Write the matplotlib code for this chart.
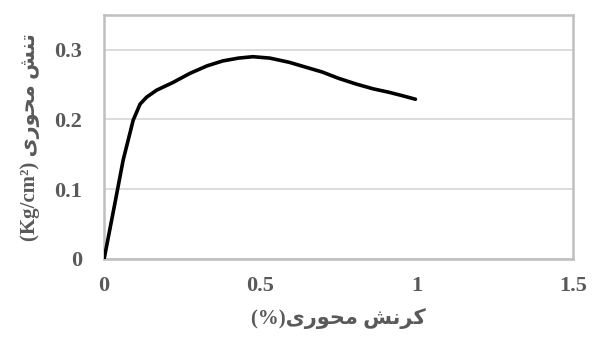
import numpy as np
import matplotlib
matplotlib.use('Agg')
import matplotlib.pyplot as plt

# strain (%) and stress (Kg/cm2)
strain = [0.0, 0.035, 0.061, 0.093, 0.115, 0.136, 0.168, 0.22, 0.274, 0.33, 0.38, 0.43,
          0.476, 0.53, 0.592, 0.645, 0.698, 0.75, 0.805, 0.86, 0.911, 0.955, 0.996]
stress = [0.0, 0.081, 0.142, 0.199, 0.222, 0.232, 0.242, 0.253, 0.266, 0.277, 0.284, 0.288,
          0.290, 0.288, 0.282, 0.275, 0.268, 0.259, 0.251, 0.244, 0.239, 0.234, 0.229]

x_ticks = [0, 0.5, 1, 1.5]
x_tick_labels = ['0', '0.5', '1', '1.5']
y_ticks = [0, 0.1, 0.2, 0.3]
y_tick_labels = ['0', '0.1', '0.2', '0.3']


def visual(forms):
    """Arabic presentation forms in logical order -> left-to-right visual order."""
    return ''.join(chr(c) for c in reversed(forms))


# کرنش / تنش / محوری in contextual forms
word_karnesh = visual([0xFB90, 0xFEAE, 0xFEE7, 0xFEB6])
word_tanesh = visual([0xFE97, 0xFEE8, 0xFEB6])
word_mehvari = visual([0xFEE3, 0xFEA4, 0xFEEE, 0xFEAD, 0xFBFC])

x_label = '(%)' + word_mehvari + ' ' + word_karnesh
y_label = '(Kg/cm\u00b2) ' + word_mehvari + ' ' + word_tanesh

text_color = '#595959'
fonts = ['Liberation Serif', 'DejaVu Sans']

fig = plt.figure(figsize=(5.95, 3.38), dpi=100)
ax = fig.add_axes([0.175, 0.234, 0.788, 0.722])

ax.plot(strain, stress, color='black', linewidth=2.6, solid_capstyle='round',
        solid_joinstyle='round', zorder=3)

ax.set_xlim(0, 1.5)
ax.set_ylim(0, 0.35)
ax.set_xticks(x_ticks)
ax.set_xticklabels(x_tick_labels)
ax.set_yticks(y_ticks)
ax.set_yticklabels(y_tick_labels)
ax.yaxis.grid(True, color='#d9d9d9', linewidth=1.3)
ax.set_axisbelow(True)
ax.tick_params(length=0, labelcolor=text_color, labelsize=16)
ax.tick_params(axis='x', pad=12)
ax.tick_params(axis='y', pad=16)
for lab in ax.get_xticklabels() + ax.get_yticklabels():
    lab.set_family(fonts)
    lab.set_fontweight('bold')

for side in ['left', 'right', 'top', 'bottom']:
    ax.spines[side].set_color('#bfbfbf')
    ax.spines[side].set_linewidth(1.8)

ax.set_xlabel(x_label, family=fonts, fontweight='bold', fontsize=15, color=text_color, labelpad=9)
ax.set_ylabel(y_label, family=fonts, fontweight='bold', fontsize=15, color=text_color, labelpad=10)

fig.savefig('out.png', dpi=100, facecolor='white')
